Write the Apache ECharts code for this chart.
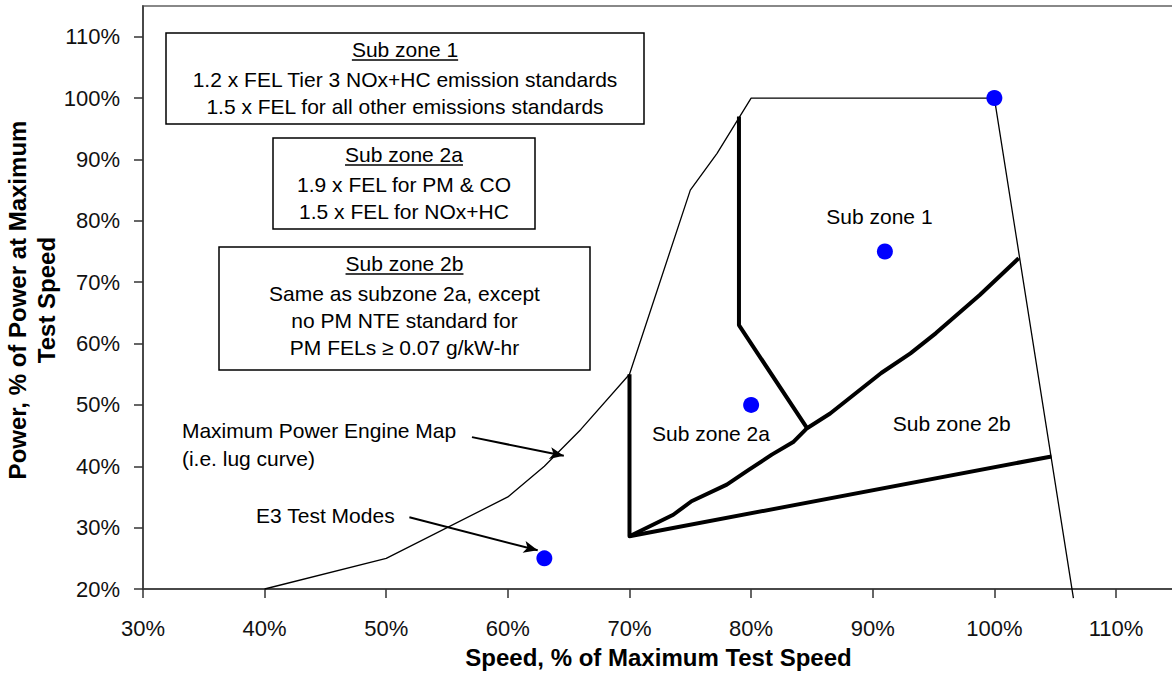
<!DOCTYPE html>
<html><head><meta charset="utf-8">
<script src="https://cdn.jsdelivr.net/npm/echarts@6/dist/echarts.min.js"></script>
<style>html,body{margin:0;padding:0;background:#fff}#c{width:1172px;height:677px}</style>
</head><body><div id="c"></div>
<script>
// ---- data ----
const xTicks = [30, 40, 50, 60, 70, 80, 90, 100, 110];
const yTicks = [20, 30, 40, 50, 60, 70, 80, 90, 100, 110];
const lugSpeed = [40, 50, 60, 63, 66, 70, 75, 77.2, 80, 100, 106.5];
const lugPower = [20, 25, 35, 40, 46, 55, 85, 91, 100, 100, 18.5];
const edgeSpeed = [70, 70, 104.7];
const edgePower = [55, 28.6, 41.6];
const diagSpeed = [70, 73.6, 75.1, 78, 79.8, 81.7, 83.5, 84.6, 86.5, 90.7, 93.1, 95.2, 98.8, 102];
const diagPower = [28.6, 32.1, 34.3, 37, 39.4, 41.9, 44, 46.2, 48.6, 55.2, 58.4, 61.7, 67.9, 73.9];
const zone1Speed = [79, 79, 84.6];
const zone1Power = [97, 63, 46.2];
const modeSpeed = [63, 80, 91, 100];
const modePower = [25, 50, 75, 100];
const zoneLabels = ['Sub zone 1', 'Sub zone 2a', 'Sub zone 2b'];
const zoneLabelSpeed = [90.55, 76.7, 96.5];
const zoneLabelPower = [80.7, 45.3, 46.9];
const noteLabels = ['Maximum Power Engine Map\n(i.e. lug curve)', 'E3 Test Modes'];
const noteSpeed = [33.2, 39.3];
const notePower = [43.5, 32];
const arrowFromSpeed = [57.05, 51.9];
const arrowFromPower = [44.75, 31.7];
const arrowToSpeed = [64.6, 62.45];
const arrowToPower = [41.7, 26.3];
const xTitle = 'Speed, % of Maximum Test Speed';
const yTitle = 'Power, % of Power at Maximum\nTest Speed';
const boxTitles = ['Sub zone 1', 'Sub zone 2a', 'Sub zone 2b'];
const boxLines = [
  ['1.2 x FEL Tier 3 NOx+HC emission standards', '1.5 x FEL for all other emissions standards'],
  ['1.9 x FEL for PM & CO', '1.5 x FEL for NOx+HC'],
  ['Same as subzone 2a, except', 'no PM NTE standard for', 'PM FELs \u2265 0.07 g/kW-hr']
];

// ---- chart ----
const FF = '"Liberation Sans", Arial, sans-serif';
const pairs = (xs, ys) => xs.map((x, i) => [x, ys[i]]);
const chart = echarts.init(document.getElementById('c'), null, {renderer: 'svg'});
const thick = {color: '#000', width: 4, join: 'round', cap: 'butt'};

chart.setOption({
  animation: false,
  backgroundColor: '#fff',
  grid: {left: 143, right: -2, top: 6, bottom: 88, show: true, borderColor: '#888', borderWidth: 2,
         containLabel: false, outerBoundsMode: 'none'},
  xAxis: {
    type: 'value', min: 30, max: 114.77,
    name: xTitle, nameLocation: 'middle', nameGap: 56,
    nameTextStyle: {fontFamily: FF, fontSize: 24, fontWeight: 'bold', color: '#000'},
    axisLine: {show: true, onZero: false, lineStyle: {color: '#333', width: 1.5}},
    axisTick: {show: true, length: 9, customValues: xTicks, lineStyle: {color: '#333', width: 1.5}},
    axisLabel: {customValues: xTicks, formatter: v => v + '%', margin: 28, fontFamily: FF, fontSize: 22, color: '#111'},
    splitLine: {show: false}
  },
  yAxis: {
    type: 'value', min: 20, max: 115,
    axisLine: {show: true, onZero: false, lineStyle: {color: '#333', width: 1.5}},
    axisTick: {show: true, length: 9, customValues: yTicks, lineStyle: {color: '#333', width: 1.5}},
    axisLabel: {customValues: yTicks, formatter: v => v + '%', margin: 23, fontFamily: FF, fontSize: 22, color: '#111'},
    splitLine: {show: false}
  },
  series: [
    {type: 'line', name: 'Maximum Power Engine Map', data: pairs(lugSpeed, lugPower), symbol: 'none', clip: false,
     lineStyle: {color: '#000', width: 1.3}, z: 2},
    {type: 'line', name: 'edge', data: pairs(edgeSpeed, edgePower), symbol: 'none', lineStyle: thick, z: 3},
    {type: 'line', name: 'diag', data: pairs(diagSpeed, diagPower), symbol: 'none', lineStyle: thick, z: 3},
    {type: 'line', name: 'zone1', data: pairs(zone1Speed, zone1Power), symbol: 'none', lineStyle: thick, z: 3,
     markLine: {
       silent: true, symbol: ['none', 'arrow'], symbolSize: [9, 14],
       lineStyle: {color: '#000', width: 2, type: 'solid'}, label: {show: false},
       data: arrowFromSpeed.map((s, i) => [{coord: [s, arrowFromPower[i]]}, {coord: [arrowToSpeed[i], arrowToPower[i]]}])
     }},
    {type: 'scatter', name: 'E3 Test Modes', data: pairs(modeSpeed, modePower), symbolSize: 16,
     itemStyle: {color: '#0000ff', opacity: 1}, z: 5}
  ]
});

// ---- annotations (text) ----
const font = (s, b) => (b ? 'bold ' : '') + s + 'px ' + FF;
const ctx = document.createElement('canvas').getContext('2d');
const measure = (t, s) => { ctx.font = font(s); return ctx.measureText(t).width; };
const g = [];
// y-axis title (rotated)
g.push({type: 'text', x: 32, y: 300, rotation: Math.PI / 2, z: 10,
  style: {text: yTitle, font: font(24, true), lineHeight: 29, fill: '#000', align: 'center', verticalAlign: 'middle'}});
zoneLabels.forEach((t, i) => {
  const p = chart.convertToPixel({gridIndex: 0}, [zoneLabelSpeed[i], zoneLabelPower[i]]);
  g.push({type: 'text', x: p[0], y: p[1], z: 10,
    style: {text: t, font: font(21), fill: '#000', align: 'center', verticalAlign: 'middle'}});
});
noteLabels.forEach((t, i) => {
  const p = chart.convertToPixel({gridIndex: 0}, [noteSpeed[i], notePower[i]]);
  g.push({type: 'text', x: p[0], y: p[1], z: 10,
    style: {text: t, font: font(21), lineHeight: 28, fill: '#000', align: 'left', verticalAlign: 'middle'}});
});
const boxRects = [[166, 33, 478, 91], [273, 138, 262, 91], [219, 247, 371, 123]];
const rowOffsets = [16.5, 46, 73, 100];
boxTitles.forEach((t, i) => {
  const [bx, by, bw, bh] = boxRects[i];
  const cx = bx + bw / 2;
  g.push({type: 'rect', shape: {x: bx, y: by, width: bw, height: bh}, z: 9,
    style: {fill: '#fff', stroke: '#000', lineWidth: 1.5}});
  g.push({type: 'text', x: cx, y: by + rowOffsets[0], z: 10,
    style: {text: t, font: font(21), fill: '#000', align: 'center', verticalAlign: 'middle'}});
  const w = measure(t, 21);
  g.push({type: 'line', z: 10, shape: {x1: cx - w / 2, y1: by + rowOffsets[0] + 10.5, x2: cx + w / 2, y2: by + rowOffsets[0] + 10.5},
    style: {stroke: '#000', lineWidth: 1.5}});
  boxLines[i].forEach((l, j) => {
    g.push({type: 'text', x: cx, y: by + rowOffsets[j + 1], z: 10,
      style: {text: l, font: font(21), fill: '#000', align: 'center', verticalAlign: 'middle'}});
  });
});
chart.setOption({graphic: {elements: g}});
</script></body></html>
